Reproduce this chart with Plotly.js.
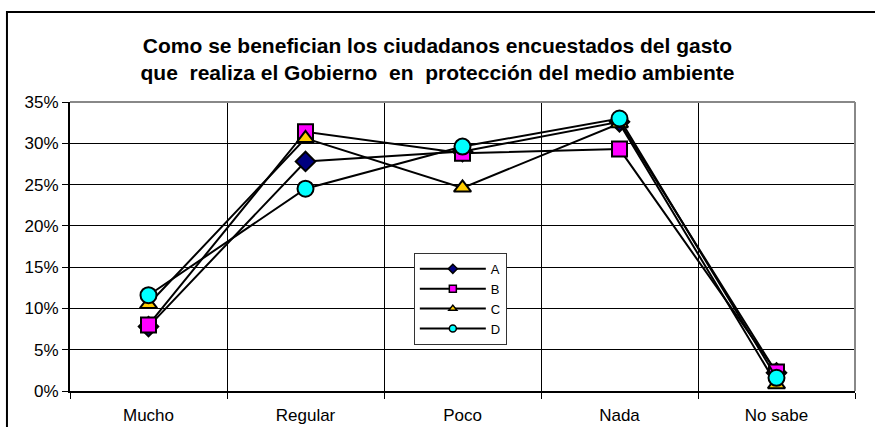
<!DOCTYPE html>
<html>
<head>
<meta charset="utf-8">
<script src="https://cdn.plot.ly/plotly-3.0.1.min.js"></script>
<style>
  html, body { margin: 0; padding: 0; background: #fff; }
  #chart { width: 875px; height: 427px; }
</style>
</head>
<body>
<div id="chart"></div>
<script>
var categories = ['Mucho', 'Regular', 'Poco', 'Nada', 'No sabe'];
var serieA = [7.8, 27.8, 29.0, 32.6, 2.2];
var serieB = [8.0, 31.4, 28.8, 29.3, 2.3];
var serieC = [10.5, 30.6, 24.6, 32.4, 0.8];
var serieD = [11.6, 24.5, 29.6, 33.0, 1.6];
var yTicks = [0, 5, 10, 15, 20, 25, 30, 35];

var names = ['A', 'B', 'C', 'D'];
var values = [serieA, serieB, serieC, serieD];
var symbols = ['diamond', 'square', 'triangle-up', 'circle'];
var colors = ['#000080', '#ff00ff', '#ffcc00', '#00ffff'];
var sizes = [15, 15, 15, 16];

var data = [];
// series drawn on the plot (legend handled by the small-marker entries below)
names.forEach(function (n, i) {
  data.push({
    x: categories,
    y: values[i],
    name: n,
    type: 'scatter',
    mode: 'lines+markers',
    showlegend: false,
    line: { color: '#000', width: 2 },
    marker: { symbol: symbols[i], color: colors[i], size: sizes[i], line: { color: '#000', width: 2 } }
  });
});
// legend entries with small markers, like the Excel legend
names.forEach(function (n, i) {
  data.push({
    x: [null],
    y: [null],
    name: n,
    type: 'scatter',
    mode: 'lines+markers',
    line: { color: '#000', width: 2 },
    marker: { symbol: symbols[i], color: colors[i], size: 7, line: { color: '#000', width: 1.5 } }
  });
});

var layout = {
  width: 875,
  height: 427,
  paper_bgcolor: '#fff',
  plot_bgcolor: '#fff',
  font: { family: 'Liberation Sans, Arial, sans-serif', color: '#000', size: 13 },
  margin: { l: 70, r: 20, t: 102, b: 36 },
  title: {
    text: '<b>Como se benefician los ciudadanos encuestados del gasto<br>que  realiza el Gobierno  en  protección del medio ambiente</b>',
    font: { size: 21, color: '#000' },
    x: 0.5,
    xanchor: 'center',
    y: 0.877,
    yanchor: 'middle'
  },
  showlegend: true,
  legend: {
    x: 0.438, y: 0.478, xanchor: 'left', yanchor: 'top',
    bgcolor: '#fff', bordercolor: '#333', borderwidth: 1,
    font: { size: 13 },
    itemwidth: 66,
    entrywidth: 108,
    tracegroupgap: 0
  },
  xaxis: {
    type: 'category',
    tickson: 'boundaries',
    showgrid: true, gridcolor: '#000', gridwidth: 1,
    showline: true, linecolor: '#000', linewidth: 2,
    ticks: 'outside', ticklen: 6, tickcolor: '#000',
    tickfont: { size: 17 },
    ticklabelstandoff: 8,
    range: [-0.5, 4.5],
    fixedrange: true
  },
  yaxis: {
    range: [0, 35],
    tickvals: yTicks,
    ticktext: yTicks.map(function (v) { return v + '%'; }),
    showgrid: true, gridcolor: '#000', gridwidth: 1,
    showline: true, linecolor: '#000', linewidth: 2,
    ticks: 'outside', ticklen: 6, tickcolor: '#000',
    tickfont: { size: 17 },
    zeroline: false,
    fixedrange: true
  },
  shapes: [
    { type: 'line', xref: 'paper', yref: 'paper', x0: 0, x1: 1, y0: 1, y1: 1, line: { color: '#888', width: 2 }, layer: 'above' },
    { type: 'line', xref: 'paper', yref: 'paper', x0: 1, x1: 1, y0: 0, y1: 1, line: { color: '#888', width: 2 }, layer: 'above' },
    { type: 'rect', xref: 'paper', yref: 'paper', x0: -0.0803, x1: 1.06, y0: -0.2, y1: 1.311, line: { color: '#000', width: 2 }, layer: 'below' }
  ]
};

Plotly.newPlot('chart', data, layout, { displayModeBar: false, staticPlot: true });
</script>
</body>
</html>
